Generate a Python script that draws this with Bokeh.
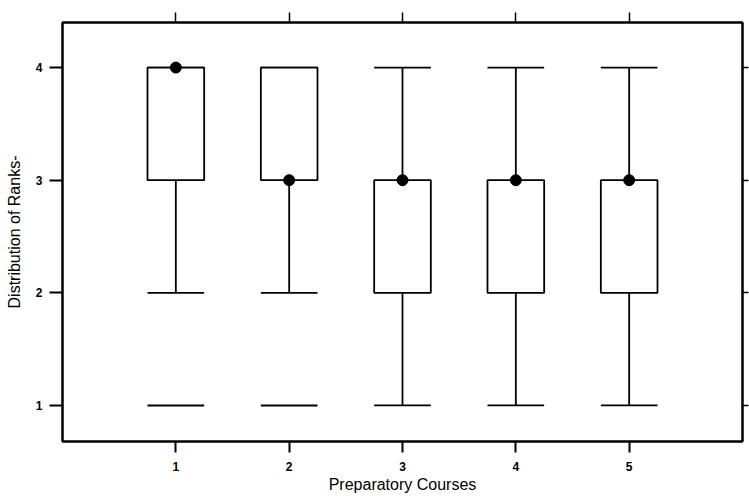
from bokeh.plotting import figure
from bokeh.models import LinearAxis, FixedTicker, Range1d, ColumnDataSource
from bokeh.embed import file_html
from bokeh.resources import INLINE

courses = [1, 2, 3, 4, 5]
q1 = [3, 3, 2, 2, 2]
q3 = [4, 4, 3, 3, 3]
medians = [4, 3, 3, 3, 3]
lower = [2, 2, 1, 1, 1]
upper = [4, 4, 4, 4, 4]
outlier_x = [1, 2]
outlier_y = [1, 1]
x_ticks = [1, 2, 3, 4, 5]
y_ticks = [1, 2, 3, 4]

W = 0.5
src = ColumnDataSource(dict(x=courses, q1=q1, q3=q3, med=medians, lo=lower, up=upper,
                            xl=[c - W / 2 for c in courses], xr=[c + W / 2 for c in courses]))
osrc = ColumnDataSource(dict(x=outlier_x, y=outlier_y,
                             xl=[c - W / 2 for c in outlier_x], xr=[c + W / 2 for c in outlier_x]))

p = figure(width=749, height=496, output_backend="svg", toolbar_location=None,
           x_range=Range1d(0, 6), y_range=Range1d(0.68, 4.4),
           min_border_left=62, min_border_right=7, min_border_top=22, min_border_bottom=55)
p.grid.visible = False
p.outline_line_color = "black"
p.outline_line_width = 2
p.background_fill_color = "white"

FONT = "Liberation Sans"
for ax in (p.xaxis[0], p.yaxis[0]):
    ax.axis_line_color = "black"
    ax.axis_line_width = 2
    ax.major_tick_line_width = 2
    ax.major_tick_in = 0
    ax.minor_tick_line_color = None
    ax.major_label_text_font = FONT
    ax.major_label_text_font_size = "12px"
    ax.major_label_text_font_style = "bold"
    ax.major_label_text_color = "black"
    ax.axis_label_text_font = FONT
    ax.axis_label_text_font_size = "16px"
    ax.axis_label_text_font_style = "normal"
    ax.axis_label_text_color = "black"

p.xaxis[0].ticker = FixedTicker(ticks=x_ticks)
p.yaxis[0].ticker = FixedTicker(ticks=y_ticks)
p.xaxis[0].axis_label = "Preparatory Courses"
p.yaxis[0].axis_label = "Distribution of Ranks-"
p.xaxis[0].major_tick_out = 11
p.xaxis[0].major_label_standoff = 9
p.xaxis[0].axis_label_standoff = 2
p.yaxis[0].major_tick_out = 13
p.yaxis[0].major_label_standoff = 7
p.yaxis[0].axis_label_standoff = 10

top = LinearAxis(ticker=FixedTicker(ticks=x_ticks), major_label_text_font_size="1px",
                 major_label_text_color=None, major_label_standoff=0,
                 major_tick_out=10, major_tick_in=0, minor_tick_line_color=None,
                 axis_line_width=2, major_tick_line_width=1.5)
right = LinearAxis(ticker=FixedTicker(ticks=y_ticks), major_label_text_font_size="1px",
                   major_label_text_color=None, major_label_standoff=0,
                   major_tick_out=6, major_tick_in=0, minor_tick_line_color=None,
                   axis_line_width=2, major_tick_line_width=1.5)
p.add_layout(top, "above")
p.add_layout(right, "right")

LW = 1.8
# whiskers
p.segment(x0="x", y0="q3", x1="x", y1="up", source=src, line_color="black", line_width=LW)
p.segment(x0="x", y0="q1", x1="x", y1="lo", source=src, line_color="black", line_width=LW)
p.segment(x0="xl", y0="up", x1="xr", y1="up", source=src, line_color="black", line_width=LW)
p.segment(x0="xl", y0="lo", x1="xr", y1="lo", source=src, line_color="black", line_width=LW)
# boxes
p.vbar(x="x", top="q3", bottom="q1", width=W, source=src, fill_color="white",
       line_color="black", line_width=LW)
# outliers as dashes
p.segment(x0="xl", y0="y", x1="xr", y1="y", source=osrc, line_color="black", line_width=2)
# medians
p.scatter(x="x", y="med", source=src, size=11, fill_color="black", line_color="black")

open("out.html", "w").write(file_html(p, INLINE))
